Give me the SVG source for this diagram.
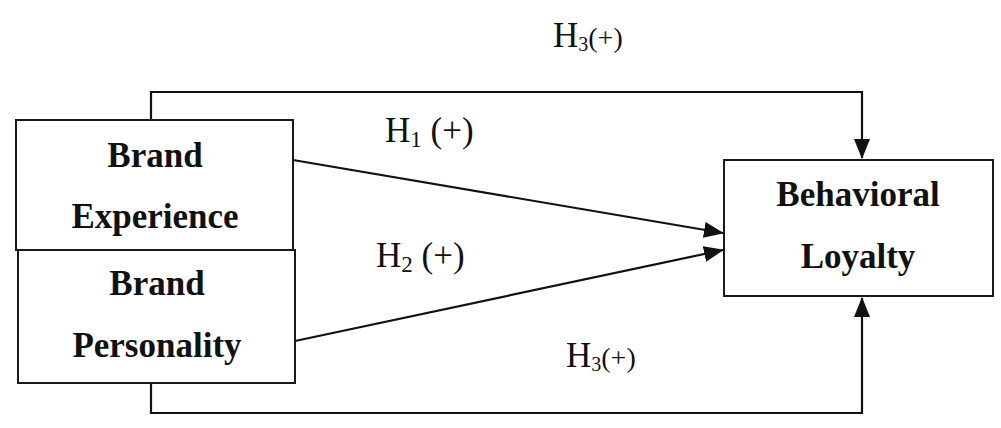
<svg xmlns="http://www.w3.org/2000/svg" width="1001" height="428" viewBox="0 0 1001 428">
<style>
.box{fill:#fff;stroke:#1a1a1a;stroke-width:2}
.lbl{font-family:"Liberation Serif","Times New Roman",serif;font-weight:bold;font-size:35px;fill:#111;text-anchor:middle}
.h{font-family:"Liberation Serif","Times New Roman",serif;font-size:35px;fill:#111}
.ln{fill:none;stroke:#111;stroke-width:2.2}
</style>
<defs>
<marker id="ah" markerUnits="userSpaceOnUse" markerWidth="20" markerHeight="16" viewBox="0 0 20 16" refX="19" refY="8" orient="auto">
<path d="M0,0 L20,8 L0,16 Z" fill="#111"/>
</marker>
</defs>
<g id="connectors">
<path class="ln" d="M151,120 V92 H862 V158" marker-end="url(#ah)"/>
<path class="ln" d="M151,383 V413 H862 V298" marker-end="url(#ah)"/>
<path class="ln" d="M293,160 L723,233" marker-end="url(#ah)"/>
<path class="ln" d="M295,341 L723,250" marker-end="url(#ah)"/>
</g>
<g id="brand-experience">
<rect class="box" x="16" y="120" width="277" height="130"/>
<text class="lbl" x="155" y="167">Brand</text>
<text class="lbl" x="155" y="228">Experience</text>
</g>
<g id="brand-personality">
<rect class="box" x="18" y="250" width="277" height="133"/>
<text class="lbl" x="157" y="295">Brand</text>
<text class="lbl" x="157" y="357">Personality</text>
</g>
<g id="behavioral-loyalty">
<rect class="box" x="724" y="160" width="269" height="136"/>
<text class="lbl" x="858" y="206">Behavioral</text>
<text class="lbl" x="858" y="268">Loyalty</text>
</g>
<g id="labels">
<text class="h" x="385" y="142">H<tspan font-size="23" dy="5">1</tspan><tspan dy="-5"> (+)</tspan></text>
<text class="h" x="376" y="267">H<tspan font-size="23" dy="5">2</tspan><tspan dy="-5"> (+)</tspan></text>
<text class="h" x="553" y="47">H<tspan font-size="20" dy="4">3</tspan><tspan font-size="28" dy="-4">(+)</tspan></text>
<text class="h" x="566" y="367">H<tspan font-size="20" dy="4">3</tspan><tspan font-size="28" dy="-4">(+)</tspan></text>
</g>
</svg>
